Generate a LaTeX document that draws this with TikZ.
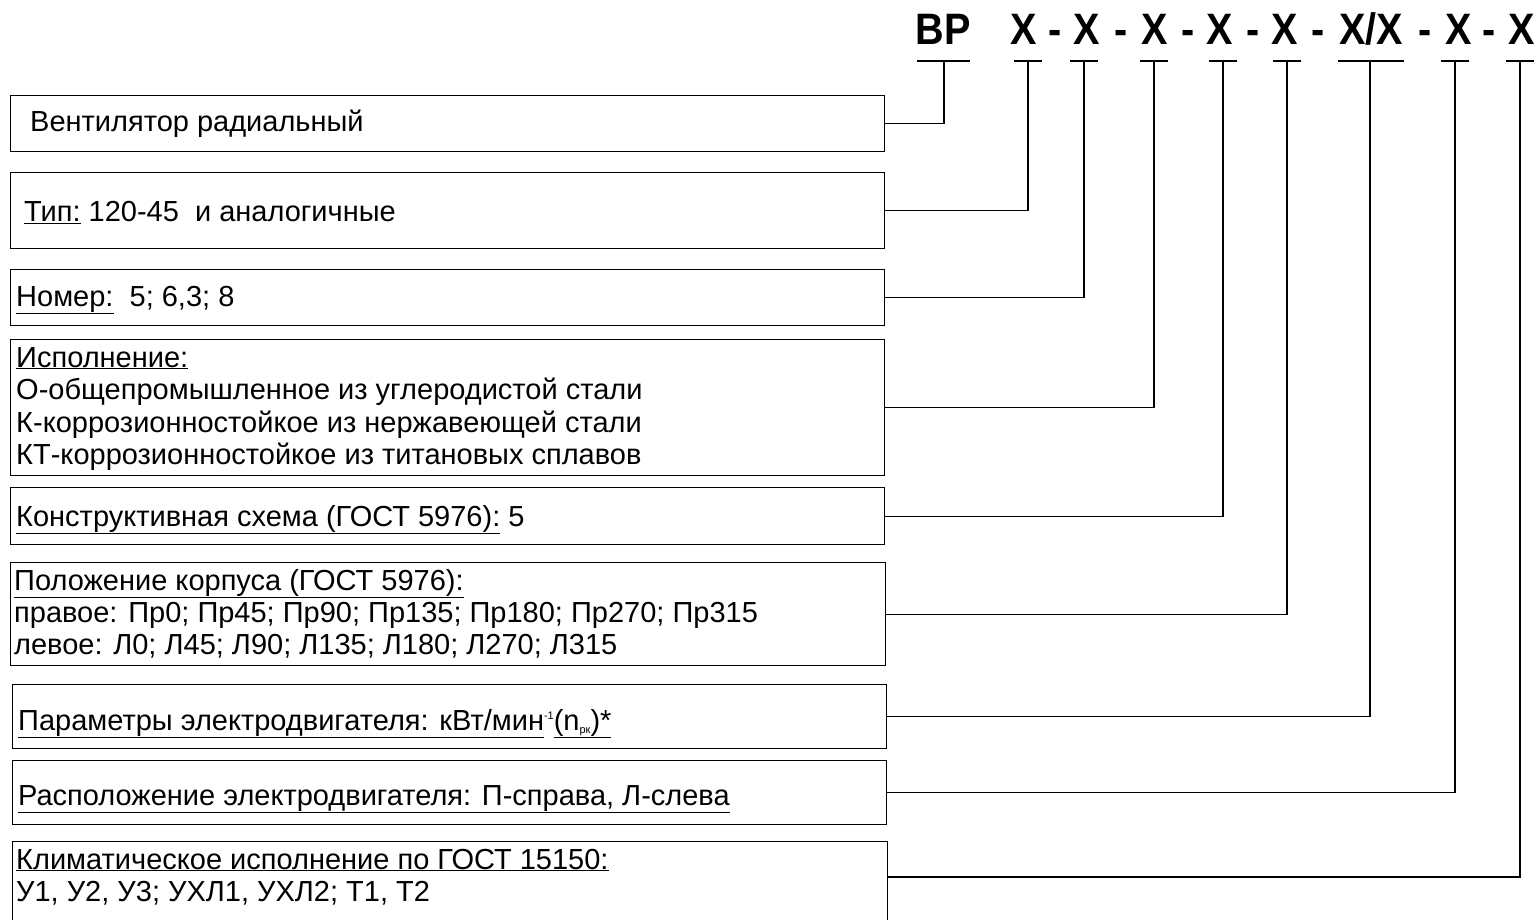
\documentclass[tikz,border=0pt]{standalone}
\usepackage{fontspec}
\setmainfont{Liberation Sans}
\newfontfamily\hdrfont{Liberation Sans}[FakeStretch=0.9]
\begin{document}
\begin{tikzpicture}[x=1pt,y=-1pt,
  box/.style={draw,line width=1.3pt,inner sep=0pt,anchor=north west},
  txt/.style={anchor=base west,inner sep=0pt,font=\fontsize{29}{32}\selectfont},
  hdr/.style={anchor=base,inner sep=0pt,font=\hdrfont\bfseries\fontsize{44}{44}\selectfont},
  conn/.style={line width=1.3pt},
  tick/.style={line width=1.3pt}]
\useasboundingbox (0,0) rectangle (1538,920);
\clip (0,0) rectangle (1538,920);
% header
\node[hdr] (hBP) at (943,45) {ВР};
\node[hdr] (hX1) at (1024,45) {X};
\node[hdr] (hd1) at (1055,45) {-};
\node[hdr] (hX2) at (1087,45) {X};
\node[hdr] (hd2) at (1121,45) {-};
\node[hdr] (hX3) at (1155,45) {X};
\node[hdr] (hd3) at (1188,45) {-};
\node[hdr] (hX4) at (1220,45) {X};
\node[hdr] (hd4) at (1253,45) {-};
\node[hdr] (hX5) at (1285,45) {X};
\node[hdr] (hd5) at (1318,45) {-};
\node[hdr] (hX6) at (1371,45) {X/X};
\node[hdr] (hd6) at (1425,45) {-};
\node[hdr] (hX7) at (1459,45) {X};
\node[hdr] (hd7) at (1489,45) {-};
\node[hdr] (hX8) at (1522,45) {X};
% tick coordinates
\coordinate (t1) at (944,61);
\coordinate (t2) at (1028,61);
\coordinate (t3) at (1084,61);
\coordinate (t4) at (1154,61);
\coordinate (t5) at (1223,61);
\coordinate (t6) at (1287,61);
\coordinate (t7) at (1370,61);
\coordinate (t8) at (1455,61);
\coordinate (t9) at (1520,61);
\draw[tick] (917,61) -- (970,61);
\draw[tick] ([xshift=-14pt]t2) -- ([xshift=14pt]t2);
\draw[tick] ([xshift=-14pt]t3) -- ([xshift=14pt]t3);
\draw[tick] ([xshift=-14pt]t4) -- ([xshift=14pt]t4);
\draw[tick] ([xshift=-14pt]t5) -- ([xshift=14pt]t5);
\draw[tick] ([xshift=-14pt]t6) -- ([xshift=14pt]t6);
\draw[tick] (1338,61) -- (1404,61);
\draw[tick] ([xshift=-14pt]t8) -- ([xshift=14pt]t8);
\draw[tick] ([xshift=-14pt]t9) -- ([xshift=14pt]t9);
% boxes
\node[box,minimum width=874pt,minimum height=56pt] (b1) at (10,95) {};
\node[box,minimum width=874pt,minimum height=76pt] (b2) at (10,172) {};
\node[box,minimum width=874pt,minimum height=56pt] (b3) at (10,269) {};
\node[box,minimum width=874pt,minimum height=136pt] (b4) at (10,339) {};
\node[box,minimum width=874pt,minimum height=57pt] (b5) at (10,487) {};
\node[box,minimum width=875pt,minimum height=103pt] (b6) at (10,562) {};
\node[box,minimum width=874pt,minimum height=64pt] (b7) at (12,684) {};
\node[box,minimum width=874pt,minimum height=64pt] (b8) at (12,760) {};
\node[box,minimum width=875pt,minimum height=100pt] (b9) at (12,841) {};
\coordinate (c9) at (887,877);
% texts
\node[txt] (l1) at (30,132) {Вентилятор радиальный};
\node[txt] (l2) at (24,222) {\underline{Тип:} 120-45\ \ и аналогичные};
\node[txt] (l3) at (16,306) {\underline{Номер:}\ \ 5; 6,3; 8};
\node[txt] (l4a) at (16,367) {\underline{Исполнение:}};
\node[txt] (l4b) at (16,399) {О-общепромышленное из углеродистой стали};
\node[txt] (l4c) at (16,432) {К-коррозионностойкое из нержавеющей стали};
\node[txt] (l4d) at (16,464) {КТ-коррозионностойкое из титановых сплавов};
\node[txt] (l5) at (16,526) {\underline{Конструктивная схема (ГОСТ 5976):} 5};
\node[txt] (l6a) at (14,590) {\underline{Положение корпуса (ГОСТ 5976):}};
\node[txt] (l6b) at (14,622) {правое: Пр0; Пр45; Пр90; Пр135; Пр180; Пр270; Пр315};
\node[txt] (l6c) at (14,654) {левое: Л0; Л45; Л90; Л135; Л180; Л270; Л315};
\node[txt] (l7) at (18,730) {\underline{Параметры электродвигателя: кВт/мин}\raisebox{11pt}{\fontsize{11}{11}\selectfont -1}\underline{(n\raisebox{-3pt}{\fontsize{11}{11}\selectfont рк})*}};
\node[txt] (l8) at (18,805) {\underline{Расположение электродвигателя: П-справа, Л-слева}};
\node[txt] (l9a) at (16,869) {\underline{Климатическое исполнение по ГОСТ 15150:}};
\node[txt] (l9b) at (16,901) {У1, У2, У3; УХЛ1, УХЛ2; Т1, Т2};
% connectors
\draw[conn] (b1.east) -| (t1);
\draw[conn] (b2.east) -| (t2);
\draw[conn] (b3.east) -| (t3);
\draw[conn] (b4.east) -| (t4);
\draw[conn] (b5.east) -| (t5);
\draw[conn] (b6.east) -| (t6);
\draw[conn] (b7.east) -| (t7);
\draw[conn] (b8.east) -| (t8);
\draw[conn] (c9) -| (t9);
\end{tikzpicture}
\end{document}
